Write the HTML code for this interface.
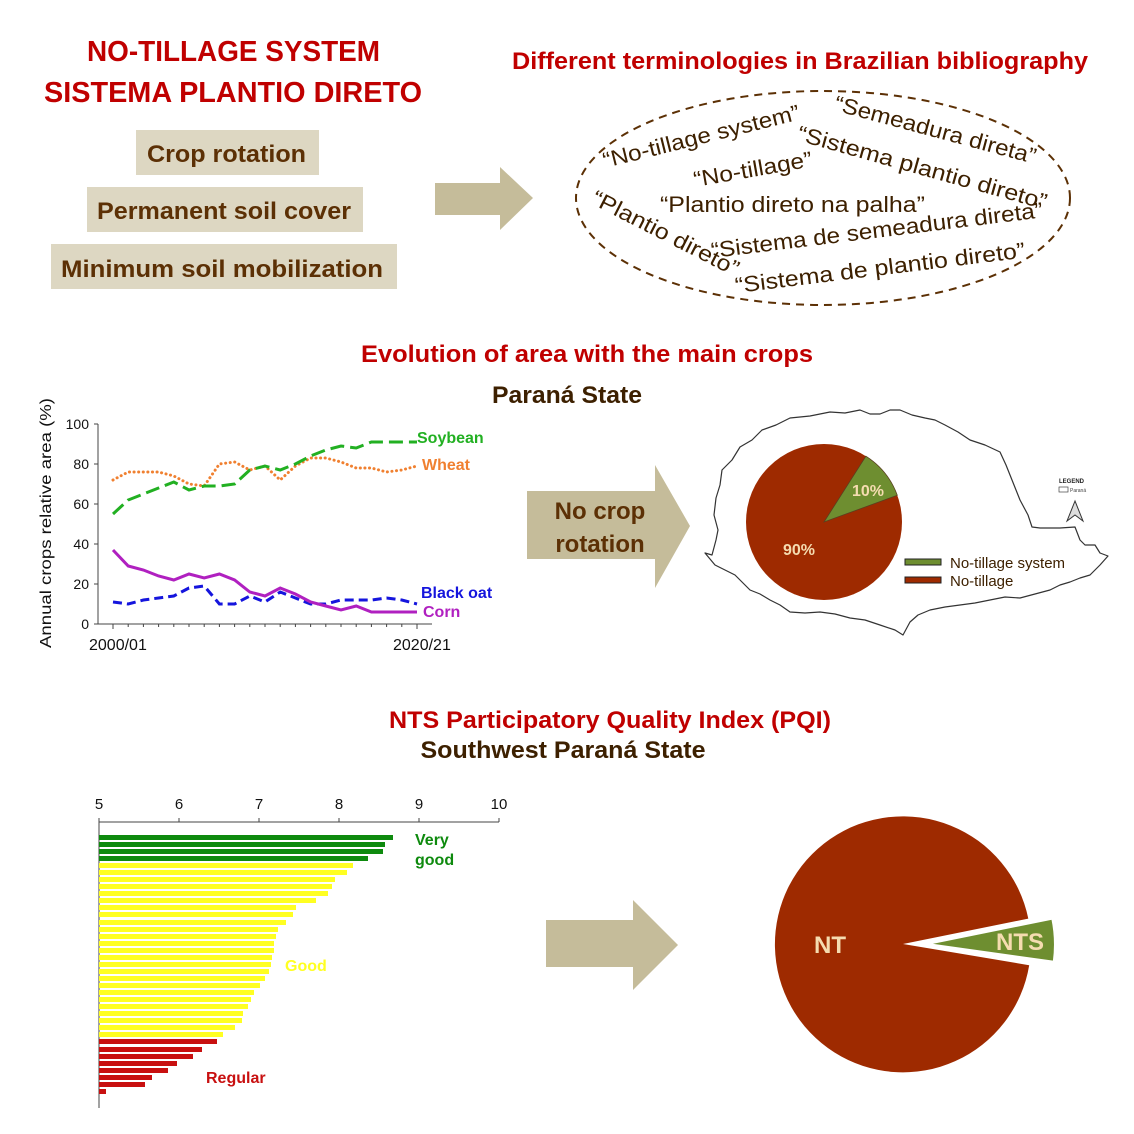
<!DOCTYPE html>
<html><head><meta charset="utf-8"><style>
html,body{margin:0;padding:0;background:#fff;}
svg{display:block;}
text{font-family:"Liberation Sans",sans-serif;}
</style></head><body>
<svg width="1134" height="1134" viewBox="0 0 1134 1134" xmlns="http://www.w3.org/2000/svg">
<rect width="1134" height="1134" fill="#fff"/>
<g font-weight="bold" fill="#c00000" font-size="29">
<text x="87" y="61" textLength="293" lengthAdjust="spacingAndGlyphs">NO-TILLAGE SYSTEM</text>
<text x="44" y="102" textLength="378" lengthAdjust="spacingAndGlyphs">SISTEMA PLANTIO DIRETO</text>
</g>
<rect x="136" y="130" width="183" height="45" fill="#ddd7c2"/>
<rect x="87" y="187" width="276" height="45" fill="#ddd7c2"/>
<rect x="51" y="244" width="346" height="45" fill="#ddd7c2"/>
<g font-weight="bold" fill="#5c3005" font-size="24">
<text x="147" y="162" textLength="159" lengthAdjust="spacingAndGlyphs">Crop rotation</text>
<text x="97" y="219" textLength="254" lengthAdjust="spacingAndGlyphs">Permanent soil cover</text>
<text x="61" y="277" textLength="322" lengthAdjust="spacingAndGlyphs">Minimum soil mobilization</text>
</g>
<polygon points="435,183 500,183 500,167 533,198 500,230 500,215 435,215" fill="#c5bc9a"/>
<text x="512" y="69" font-weight="bold" fill="#c00000" font-size="24" textLength="576" lengthAdjust="spacingAndGlyphs">Different terminologies in Brazilian bibliography</text>
<ellipse cx="823" cy="198" rx="247" ry="107" fill="none" stroke="#5c3005" stroke-width="2" stroke-dasharray="8,6"/>
<g fill="#3d2000" font-size="22">
<text transform="translate(605,168) rotate(-14)" textLength="202" lengthAdjust="spacingAndGlyphs">“No-tillage system”</text>
<text transform="translate(833,110) rotate(15)" textLength="208" lengthAdjust="spacingAndGlyphs">“Semeadura direta”</text>
<text transform="translate(796,140) rotate(15.6)" textLength="258" lengthAdjust="spacingAndGlyphs">“Sistema plantio direto”</text>
<text transform="translate(695,187) rotate(-10)" textLength="120" lengthAdjust="spacingAndGlyphs">“No-tillage”</text>
<text x="660" y="212" textLength="265" lengthAdjust="spacingAndGlyphs">“Plantio direto na palha”</text>
<text transform="translate(590,203) rotate(27)" textLength="162" lengthAdjust="spacingAndGlyphs">“Plantio direto”</text>
<text transform="translate(712,258) rotate(-7)" textLength="334" lengthAdjust="spacingAndGlyphs">“Sistema de semeadura direta”</text>
<text transform="translate(736,293) rotate(-7)" textLength="292" lengthAdjust="spacingAndGlyphs">“Sistema de plantio direto”</text>
</g>
<text x="587" y="362" text-anchor="middle" font-weight="bold" fill="#c00000" font-size="24" textLength="452" lengthAdjust="spacingAndGlyphs">Evolution of area with the main crops</text>
<text x="567" y="403" text-anchor="middle" font-weight="bold" fill="#3d2000" font-size="24" textLength="150" lengthAdjust="spacingAndGlyphs">Paraná State</text>
<g stroke="#444" stroke-width="1" fill="none">
<line x1="98" y1="424" x2="98" y2="624"/>
<line x1="98" y1="624" x2="432" y2="624"/>
<line x1="94" y1="424" x2="98" y2="424"/><line x1="94" y1="464" x2="98" y2="464"/><line x1="94" y1="504" x2="98" y2="504"/><line x1="94" y1="544" x2="98" y2="544"/><line x1="94" y1="584" x2="98" y2="584"/><line x1="94" y1="624" x2="98" y2="624"/>
<path d="M113 624v5M128.2 624v3M143.4 624v3M158.6 624v3M173.8 624v3M189 624v3M204.2 624v3M219.4 624v3M234.6 624v3M249.8 624v3M265 624v3M280.2 624v3M295.4 624v3M310.6 624v3M325.8 624v3M341 624v3M356.2 624v3M371.4 624v3M386.6 624v3M401.8 624v3M417 624v5"/>
</g>
<g font-size="14" fill="#111" text-anchor="end">
<text x="89" y="429">100</text><text x="89" y="469">80</text><text x="89" y="509">60</text><text x="89" y="549">40</text><text x="89" y="589">20</text><text x="89" y="629">0</text>
</g>
<text x="89" y="650" font-size="16" fill="#111">2000/01</text>
<text x="393" y="650" font-size="16" fill="#111">2020/21</text>
<text transform="translate(51,648) rotate(-90)" font-size="16" fill="#111" textLength="250" lengthAdjust="spacingAndGlyphs">Annual crops relative area (%)</text>
<polyline fill="none" stroke="#f08030" stroke-width="3" stroke-dasharray="0.1,4.5" stroke-linecap="round" points="113,480 128.2,472 143.4,472 158.6,472 173.8,476 189,484 204.2,486 219.4,464 234.6,462 249.8,470 265,466 280.2,480 295.4,466 310.6,458 325.8,458 341,462 356.2,468 371.4,468 386.6,472 401.8,470 417,466"/>
<polyline fill="none" stroke="#22b022" stroke-width="3" stroke-dasharray="14,6" points="113,514 128.2,500 143.4,494 158.6,488 173.8,482 189,490 204.2,486 219.4,486 234.6,484 249.8,470 265,466 280.2,470 295.4,464 310.6,456 325.8,450 341,446 356.2,448 371.4,442 386.6,442 401.8,442 417,442"/>
<polyline fill="none" stroke="#1515dd" stroke-width="3" stroke-dasharray="9,5" points="113,602 128.2,604 143.4,600 158.6,598 173.8,596 189,588 204.2,586 219.4,604 234.6,604 249.8,596 265,602 280.2,592 295.4,598 310.6,604 325.8,604 341,600 356.2,600 371.4,600 386.6,598 401.8,600 417,604"/>
<polyline fill="none" stroke="#b020c0" stroke-width="3" points="113,550 128.2,566 143.4,570 158.6,576 173.8,580 189,574 204.2,578 219.4,574 234.6,580 249.8,592 265,596 280.2,588 295.4,594 310.6,602 325.8,606 341,610 356.2,606 371.4,612 386.6,612 401.8,612 417,612"/>
<g font-weight="bold" font-size="16">
<text x="417" y="443" fill="#22b022">Soybean</text>
<text x="422" y="470" fill="#f08030">Wheat</text>
<text x="421" y="598" fill="#1515dd">Black oat</text>
<text x="423" y="617" fill="#b020c0">Corn</text>
</g>
<polygon points="527,491 655,491 655,465 690,526 655,588 655,559 527,559" fill="#c5bc9a"/>
<g font-weight="bold" fill="#5c3005" font-size="24" text-anchor="middle">
<text x="600" y="519">No crop</text>
<text x="600" y="552">rotation</text>
</g>
<polygon fill="none" stroke="#333" stroke-width="1.2" stroke-linejoin="round" points="712,555 716,540 718,530 714,515 716,498 720,485 722,470 732,460 740,447 752,440 762,430 776,425 790,418 810,416 830,412 845,413 860,410 870,414 880,414 890,410 900,410 912,415 925,418 935,420 945,425 958,432 970,440 985,445 1000,452 1006,465 1012,480 1016,490 1020,500 1028,515 1032,527 1040,528 1060,528 1075,527 1080,540 1085,545 1095,545 1100,553 1108,556 1100,565 1090,575 1080,578 1070,582 1060,585 1050,590 1035,594 1020,598 1005,597 990,600 975,603 960,605 945,607 930,610 918,615 910,622 903,635 895,630 880,625 865,620 850,618 835,614 820,612 805,613 790,612 780,605 770,600 760,594 750,590 742,582 735,575 725,570 715,565 705,553"/>
<text x="1059" y="483" font-size="6" font-weight="bold" fill="#222">LEGEND</text>
<rect x="1059" y="487" width="9" height="5" fill="none" stroke="#444" stroke-width="0.7"/>
<text x="1070" y="492" font-size="5" fill="#444">Paraná</text>
<polygon points="1075,501 1067,521 1075,515 1083,521" fill="#ddd" stroke="#333" stroke-width="1"/>
<circle cx="824" cy="522" r="78" fill="#9e2a00"/>
<path d="M824,522 L865.9,456.2 A78,78 0 0 1 897.3,495.3 Z" fill="#6e8e30" stroke="#5a4020" stroke-width="0.8"/>
<text x="852" y="496" font-weight="bold" font-size="16" fill="#f5dcb0">10%</text>
<text x="783" y="555" font-weight="bold" font-size="16" fill="#f5dcb0">90%</text>
<rect x="905" y="559" width="36" height="6" fill="#6e8e30" stroke="#222" stroke-width="1"/>
<rect x="905" y="577" width="36" height="6" fill="#9e2a00" stroke="#222" stroke-width="1"/>
<text x="950" y="568" font-size="15" fill="#3d2000">No-tillage system</text>
<text x="950" y="586" font-size="15" fill="#3d2000">No-tillage</text>
<text x="610" y="728" text-anchor="middle" font-weight="bold" fill="#c00000" font-size="24" textLength="442" lengthAdjust="spacingAndGlyphs">NTS Participatory Quality Index (PQI)</text>
<text x="563" y="758" text-anchor="middle" font-weight="bold" fill="#3d2000" font-size="24" textLength="285" lengthAdjust="spacingAndGlyphs">Southwest Paraná State</text>
<g font-size="15" fill="#111" text-anchor="middle">
<text x="99" y="809">5</text><text x="179" y="809">6</text><text x="259" y="809">7</text><text x="339" y="809">8</text><text x="419" y="809">9</text><text x="499" y="809">10</text>
</g>
<g stroke="#444" stroke-width="1" fill="none">
<line x1="99" y1="822" x2="499" y2="822"/>
<line x1="99" y1="822" x2="99" y2="1108"/>
<path d="M179 822v-4M259 822v-4M339 822v-4M419 822v-4M499 822v-4M99 822v-4"/>
</g>
<g fill="#0e8a0e">
<rect x="99" y="835" width="294" height="5"/><rect x="99" y="842" width="286" height="5"/><rect x="99" y="849" width="284" height="5"/><rect x="99" y="856" width="269" height="5"/>
</g>
<g fill="#ffff22">
<rect x="99" y="863" width="254" height="5"/><rect x="99" y="870" width="248" height="5"/><rect x="99" y="877" width="236" height="5"/><rect x="99" y="884" width="233" height="5"/><rect x="99" y="891" width="229" height="5"/><rect x="99" y="898" width="217" height="5"/><rect x="99" y="905" width="197" height="5"/><rect x="99" y="912" width="194" height="5"/><rect x="99" y="920" width="187" height="5"/><rect x="99" y="927" width="179" height="5"/><rect x="99" y="934" width="177" height="5"/><rect x="99" y="941" width="175" height="5"/><rect x="99" y="948" width="175" height="5"/><rect x="99" y="955" width="173" height="5"/><rect x="99" y="962" width="172" height="5"/><rect x="99" y="969" width="170" height="5"/><rect x="99" y="976" width="166" height="5"/><rect x="99" y="983" width="161" height="5"/><rect x="99" y="990" width="155" height="5"/><rect x="99" y="997" width="152" height="5"/><rect x="99" y="1004" width="149" height="5"/><rect x="99" y="1011" width="144" height="5"/><rect x="99" y="1018" width="143" height="5"/><rect x="99" y="1025" width="136" height="5"/><rect x="99" y="1032" width="124" height="5"/>
</g>
<g fill="#c81010">
<rect x="99" y="1039" width="118" height="5"/><rect x="99" y="1047" width="103" height="5"/><rect x="99" y="1054" width="94" height="5"/><rect x="99" y="1061" width="78" height="5"/><rect x="99" y="1068" width="69" height="5"/><rect x="99" y="1075" width="53" height="5"/><rect x="99" y="1082" width="46" height="5"/><rect x="99" y="1089" width="7" height="5"/>
</g>
<g font-weight="bold" font-size="16">
<text x="415" y="845" fill="#0e8a0e">Very</text>
<text x="415" y="865" fill="#0e8a0e">good</text>
<text x="285" y="971" fill="#ffff22">Good</text>
<text x="206" y="1083" fill="#c81010">Regular</text>
</g>
<polygon points="546,920 633,920 633,900 678,945 633,990 633,967 546,967" fill="#c5bc9a"/>
<path d="M903,944 L1029.2,965.2 A128,128 0 1 1 1028.3,918.6 Z" fill="#9e2a00"/>
<path d="M927,944 L1052.3,918.6 A128,128 0 0 1 1053.8,961.8 Z" fill="#6e8e30" stroke="#fff" stroke-width="2"/>
<text x="814" y="953" font-weight="bold" font-size="24" fill="#f5dcb0">NT</text>
<text x="996" y="950" font-weight="bold" font-size="24" fill="#f5dcb0">NTS</text>
</svg>
</body></html>
